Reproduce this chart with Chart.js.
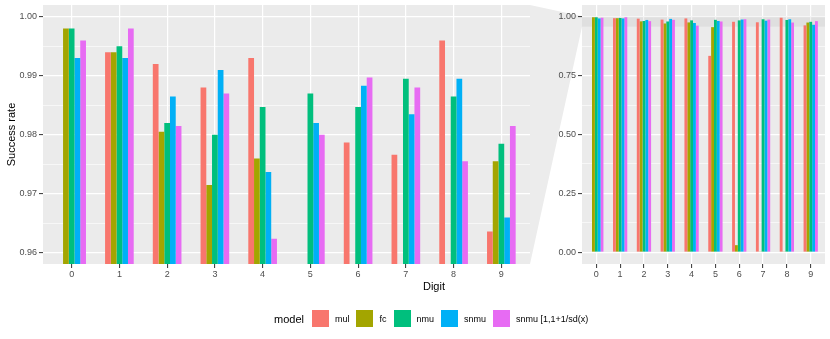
<!DOCTYPE html>
<html>
<head>
<meta charset="utf-8">
<title>Success rate by digit</title>
<script src="https://cdn.jsdelivr.net/npm/chart.js@4.4.1/dist/chart.umd.min.js"></script>
<style>
    body { margin: 0; background: #fff; font-family: 'Liberation Sans', Arial, sans-serif; }
    #wrap { position: relative; width: 830px; height: 339px; overflow: hidden; }
    canvas { position: absolute; top: 0; }
    #left-chart { left: 0; }
    #right-chart { left: 530px; }
    #x-title { position: absolute; left: 384px; width: 100px; top: 279px; text-align: center; font-size: 11px; line-height: 14px; color: #000; }
    #legend { position: absolute; left: 274px; top: 310px; height: 17px; display: flex; align-items: center; font-size: 9px; color: #000; }
    #legend .name { font-size: 11px; margin-right: 8px; }
    #legend .key { width: 17px; height: 17px; }
    #legend .lab { margin: 0 7px 0 6px; white-space: nowrap; }
</style>
</head>
<body>
<div id="wrap">
    <canvas id="left-chart" width="530" height="280"></canvas>
    <canvas id="right-chart" width="300" height="280"></canvas>
    <div id="x-title">Digit</div>
    <div id="legend"></div>
</div>
<script>
// Categories
const digits = ['0', '1', '2', '3', '4', '5', '6', '7', '8', '9'];

// Success rate per model
const mulRate    = [0, 0.994, 0.992, 0.988, 0.993, 0.834, 0.9787, 0.9766, 0.996, 0.9636];
const fcRate     = [0.998, 0.994, 0.9805, 0.9715, 0.976, 0.956, 0.03, 0.003, 0.003, 0.9755];
const nmuRate    = [0.998, 0.995, 0.982, 0.980, 0.9847, 0.987, 0.9847, 0.9895, 0.9865, 0.9785];
const snmuRate   = [0.993, 0.993, 0.9865, 0.991, 0.9737, 0.982, 0.9883, 0.9835, 0.9895, 0.966];
const snmuSdRate = [0.996, 0.998, 0.9815, 0.987, 0.9624, 0.980, 0.9897, 0.988, 0.9755, 0.9815];

const modelNames = ['mul', 'fc', 'nmu', 'snmu', 'snmu [1,1+1/sd(x)'];

// Tick labels
const zoomTicks = [0.96, 0.97, 0.98, 0.99, 1.00];
const fullTicks = [0, 0.25, 0.5, 0.75, 1];

// zoomed y range (left panel)
const zoomMin = 0.9581;
const zoomMax = 1.002;

const modelColors = ['#F8766D', '#A3A500', '#00BF7D', '#00B0F6', '#E76BF3'];
const tickFont = { family: "'Liberation Sans', Arial, sans-serif", size: 9 };

// major ticks + minor ticks halfway between them (ggplot style)
function withMinor(major) {
    const out = [];
    major.forEach((v, i) => {
        out.push({ value: v });
        if (i < major.length - 1) out.push({ value: (v + major[i + 1]) / 2, minor: true });
    });
    return out;
}

function isMinor(ctx) {
    return ctx.tick && ctx.tick.minor;
}

// ---------------- PANEL DRAWING ----------------

const panelPlugin = {
    id: 'panel',
    beforeDraw(chart, args, opts) {
        const { ctx, chartArea: a } = chart;
        ctx.save();
        if (opts.link) {
            // connector from the zoomed panel to the highlighted band
            const y = chart.scales.y;
            ctx.fillStyle = '#ECECEC';
            ctx.beginPath();
            ctx.moveTo(0, a.top);
            ctx.lineTo(a.left, y.getPixelForValue(zoomMax));
            ctx.lineTo(a.left, y.getPixelForValue(zoomMin));
            ctx.lineTo(0, a.bottom);
            ctx.closePath();
            ctx.fill();
        }
        ctx.fillStyle = '#EBEBEB';
        ctx.fillRect(a.left, a.top, a.right - a.left, a.bottom - a.top);
        ctx.restore();
    },
    beforeDatasetsDraw(chart, args, opts) {
        if (!opts.link) return;
        const { ctx, chartArea: a } = chart;
        const y = chart.scales.y;
        const top = y.getPixelForValue(zoomMax);
        const bottom = y.getPixelForValue(zoomMin);
        ctx.save();
        ctx.fillStyle = 'rgba(0,0,0,0.05)';
        ctx.fillRect(a.left, top, a.right - a.left, bottom - top);
        ctx.restore();
    }
};

// ---------------- CHARTS ----------------

function buildDatasets() {
    const series = [mulRate, fcRate, nmuRate, snmuRate, snmuSdRate];
    return series.map((data, i) => ({
        label: modelNames[i],
        data: data,
        backgroundColor: modelColors[i],
        borderWidth: 0,
        clip: 0
    }));
}

function makeChart(canvasId, yMin, yMax, yTicks, yWidth, link) {
    const ctx = document.getElementById(canvasId).getContext('2d');
    return new Chart(ctx, {
        type: 'bar',
        data: { labels: digits, datasets: buildDatasets() },
        plugins: [panelPlugin],
        options: {
            responsive: false,
            animation: false,
            events: [],
            categoryPercentage: 0.6,
            barPercentage: 1,
            layout: { padding: { top: 5, right: link ? 5 : 0, left: 0, bottom: 0 } },
            plugins: {
                legend: { display: false },
                tooltip: { enabled: false },
                panel: { link: link }
            },
            scales: {
                x: {
                    type: 'linear',
                    min: -0.6,
                    max: 9.6,
                    offset: false,
                    afterBuildTicks: s => { s.ticks = digits.map((d, i) => ({ value: i })); },
                    afterFit: s => { s.height = 16; s.paddingLeft = 0; s.paddingRight = 0; },
                    ticks: {
                        font: tickFont, color: '#4D4D4D', padding: 1,
                        autoSkip: false, maxRotation: 0,
                        callback: v => digits[v]
                    },
                    grid: {
                        offset: false,
                        color: '#FFFFFF', lineWidth: 1.2,
                        tickColor: '#333333', tickLength: 4, tickWidth: 1
                    },
                    border: { display: false }
                },
                y: {
                    type: 'linear',
                    min: yMin,
                    max: yMax,
                    afterBuildTicks: s => { s.ticks = withMinor(yTicks); },
                    afterFit: s => { s.width = yWidth; s.paddingTop = 0; s.paddingBottom = 0; },
                    ticks: {
                        font: tickFont, color: '#4D4D4D', padding: 2, autoSkip: false,
                        callback: (v, i, ticks) => ticks[i].minor ? '' : v.toFixed(2)
                    },
                    grid: {
                        color: '#FFFFFF',
                        lineWidth: c => isMinor(c) ? 0.6 : 1.2,
                        tickColor: c => isMinor(c) ? 'rgba(0,0,0,0)' : '#333333',
                        tickLength: 4,
                        tickWidth: 1
                    },
                    border: { display: false },
                    title: {
                        display: !link,
                        text: 'Success rate',
                        color: '#000',
                        font: { family: "'Liberation Sans', Arial, sans-serif", size: 11 },
                        padding: { top: 5, bottom: 0 }
                    }
                }
            }
        }
    });
}

function buildLegend() {
    const box = document.getElementById('legend');
    let html = '<span class="name">model</span>';
    modelNames.forEach((name, i) => {
        html += `<span class="key" style="background:${modelColors[i]}"></span><span class="lab">${name}</span>`;
    });
    box.innerHTML = html;
}

makeChart('left-chart', zoomMin, zoomMax, zoomTicks, 43, false);
makeChart('right-chart', -0.05, 1.05, fullTicks, 52, true);
buildLegend();
</script>
</body>
</html>
